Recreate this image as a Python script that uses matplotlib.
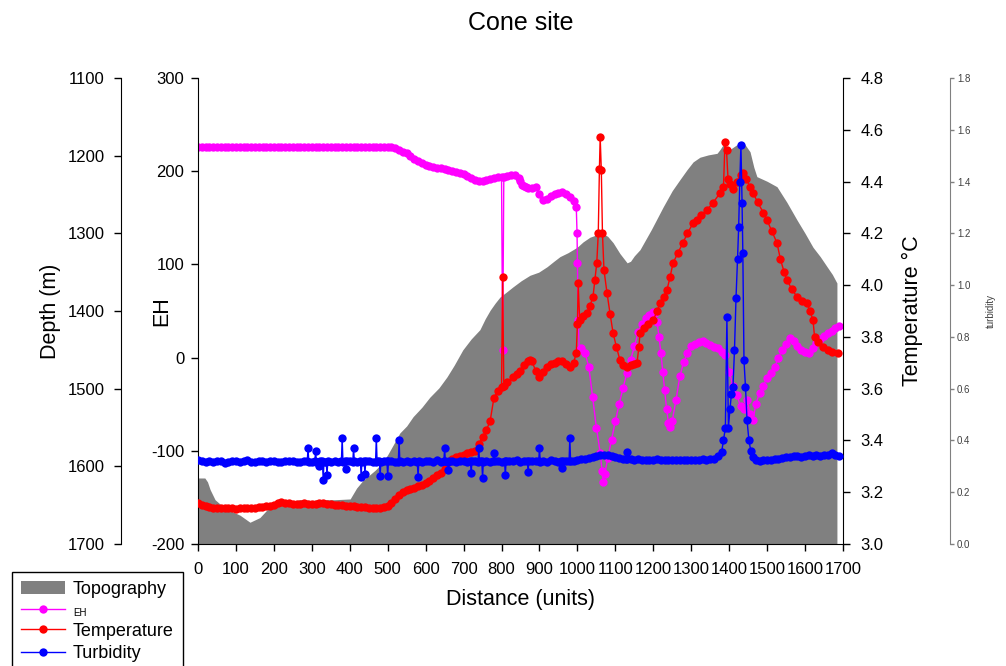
import matplotlib
matplotlib.use('Agg')
import matplotlib.pyplot as plt
from matplotlib.lines import Line2D
from matplotlib.patches import Patch

plt.rcParams['font.family'] = ['Liberation Sans', 'DejaVu Sans']
plt.rcParams['axes.unicode_minus'] = False

# ---------------- data ----------------
dist_ticks = [0, 100, 200, 300, 400, 500, 600, 700, 800, 900, 1000,
              1100, 1200, 1300, 1400, 1500, 1600, 1700]
depth_ticks = [1100, 1200, 1300, 1400, 1500, 1600, 1700]
eh_ticks = [-200, -100, 0, 100, 200, 300]
temp_ticks = [3.0, 3.2, 3.4, 3.6, 3.8, 4.0, 4.2, 4.4, 4.6, 4.8]
turb_ticks = [0.0, 0.2, 0.4, 0.6, 0.8, 1.0, 1.2, 1.4, 1.6, 1.8]

# (distance, depth) of the topography profile
topo_points = [(0, 1615), (18, 1615), (25, 1620), (32, 1630), (45, 1643), (71, 1654),
               (111, 1663), (137, 1672), (150, 1669), (163, 1666), (182, 1656), (200, 1652),
               (216, 1650), (240, 1646), (269, 1643), (300, 1644), (322, 1643), (360, 1643),
               (401, 1642), (418, 1628), (435, 1618), (450, 1612), (467, 1605), (485, 1596),
               (500, 1585), (515, 1572), (532, 1557), (550, 1548), (567, 1536), (590, 1524),
               (611, 1511), (635, 1499), (656, 1485), (675, 1470), (698, 1450), (720, 1436),
               (743, 1424), (757, 1410), (770, 1399), (783, 1390), (796, 1382), (812, 1376),
               (830, 1369), (852, 1361), (875, 1354), (898, 1350), (920, 1343), (938, 1336),
               (954, 1330), (975, 1325), (999, 1318), (1015, 1311), (1033, 1305), (1050, 1302),
               (1067, 1300), (1080, 1304), (1094, 1312), (1112, 1326), (1131, 1338), (1140, 1336),
               (1150, 1329), (1165, 1321), (1195, 1295), (1226, 1266), (1250, 1245), (1270, 1231),
               (1289, 1218), (1305, 1208), (1323, 1202), (1345, 1199), (1368, 1197), (1376, 1192),
               (1384, 1186), (1393, 1190), (1402, 1192), (1420, 1186), (1442, 1186), (1455, 1195),
               (1465, 1215), (1473, 1227), (1500, 1233), (1526, 1240), (1552, 1260), (1579, 1283),
               (1600, 1300), (1621, 1318), (1640, 1330), (1658, 1343), (1672, 1353), (1684, 1364)]

eh_dist = [0, 10, 20, 30, 40, 50, 60, 70, 80, 90,
           100, 110, 120, 130, 140, 150, 160, 170, 180, 190,
           200, 210, 220, 230, 240, 250, 260, 270, 280, 290,
           300, 310, 320, 330, 340, 350, 360, 370, 380, 390,
           400, 410, 420, 430, 440, 450, 460, 470, 480, 490,
           500, 510, 520, 530, 540, 550, 560, 570, 580, 590,
           600, 610, 620, 630, 640, 650, 660, 670, 680, 690,
           700, 710, 720, 730, 740, 750, 760, 770, 780, 790,
           800, 803, 806, 815, 825, 835, 845, 850, 855, 860,
           865, 870, 880, 890, 900, 910, 920, 930, 940, 950,
           960, 970, 980, 990, 997, 999, 1000, 1002, 1005, 1010,
           1020, 1030, 1040, 1050, 1060, 1065, 1068, 1072, 1080, 1090,
           1100, 1110, 1120, 1130, 1140, 1150, 1160, 1170, 1180, 1190,
           1200, 1205, 1210, 1215, 1220, 1225, 1230, 1235, 1240, 1245,
           1250, 1260, 1270, 1280, 1290, 1300, 1310, 1320, 1330, 1340,
           1350, 1360, 1370, 1380, 1390, 1400, 1410, 1420, 1430, 1440,
           1447, 1455, 1463, 1470, 1480, 1490, 1500, 1510, 1520, 1530,
           1540, 1550, 1560, 1570, 1580, 1590, 1600, 1610, 1620, 1630,
           1640, 1650, 1660, 1670, 1680, 1690]
eh_val = [226, 226, 226, 226, 226, 226, 226, 226, 226, 226,
          226, 226, 226, 226, 226, 226, 226, 226, 226, 226,
          226, 226, 226, 226, 226, 226, 226, 226, 226, 226,
          226, 226, 226, 226, 226, 226, 226, 226, 226, 226,
          226, 226, 226, 226, 226, 226, 226, 226, 226, 226,
          226, 226, 225, 223, 221, 219, 216, 213, 211, 209,
          207, 205.5, 204.5, 203.5, 203, 202, 201, 200, 199, 198,
          197, 195, 193, 191, 190, 190, 191, 192, 193, 194,
          194, 8, 194, 195, 196, 196, 193, 189, 185, 184,
          183, 182, 182, 183, 176, 169, 170, 173, 176, 177,
          178, 176, 172, 168, 162, 134, 101, 40, 8, 10,
          5, -10, -42, -75, -102, -122, -133, -125, -108, -88,
          -68, -50, -33, -17, -3, 12, 27, 36, 42, 46,
          49, 48, 38, 22, 5, -15, -35, -55, -70, -74,
          -68, -45, -20, -5, 5, 12, 15, 17, 18, 16,
          13, 11, 10, 6, 3, -15, -30, -40, -52, -55,
          -45, -60, -67, -50, -38, -30, -22, -16, -10, 0,
          8, 15, 21, 18, 12, 8, 6, 5, 10, 16,
          20, 23, 26, 29, 32, 34]

temp_dist = [0, 10, 20, 30, 40, 50, 60, 70, 80, 90,
             100, 110, 120, 130, 140, 150, 160, 170, 180, 190,
             200, 210, 220, 230, 240, 250, 260, 270, 280, 290,
             300, 310, 320, 330, 340, 350, 360, 370, 380, 390,
             400, 410, 420, 430, 440, 450, 460, 470, 480, 490,
             500, 510, 520, 530, 540, 550, 560, 570, 580, 590,
             600, 610, 620, 630, 640, 650, 660, 670, 680, 690,
             700, 710, 720, 730, 740, 750, 760, 770, 780, 790,
             800, 803, 806, 815, 830, 840, 850, 860, 870, 875,
             880, 890, 900, 910, 920, 930, 940, 950, 960, 970,
             980, 990, 997, 1000, 1002, 1006, 1015, 1025, 1033, 1041,
             1046, 1051, 1055, 1058, 1060, 1063, 1066, 1070, 1078, 1086,
             1094, 1103, 1112, 1120, 1131, 1140, 1150, 1157, 1162, 1165,
             1175, 1185, 1200, 1210, 1218, 1227, 1236, 1244, 1252, 1265,
             1278, 1290, 1305, 1315, 1325, 1341, 1357, 1376, 1385, 1389,
             1393, 1397, 1403, 1410, 1420, 1430, 1436, 1445, 1455, 1463,
             1475, 1490, 1500, 1512, 1526, 1535, 1545, 1552, 1565, 1579,
             1592, 1605, 1613, 1621, 1625, 1635, 1648, 1660, 1672, 1687]
temp_val = [3.158, 3.150, 3.145, 3.142, 3.140, 3.140, 3.139, 3.138, 3.138, 3.138,
            3.137, 3.138, 3.138, 3.139, 3.140, 3.140, 3.141, 3.142, 3.145, 3.148,
            3.152, 3.158, 3.162, 3.160, 3.158, 3.156, 3.155, 3.156, 3.157, 3.156,
            3.155, 3.156, 3.157, 3.157, 3.155, 3.153, 3.152, 3.152, 3.150, 3.148,
            3.146, 3.145, 3.142, 3.142, 3.141, 3.140, 3.140, 3.139, 3.140, 3.142,
            3.148, 3.158, 3.172, 3.190, 3.200, 3.207, 3.212, 3.218, 3.224, 3.228,
            3.235, 3.245, 3.255, 3.265, 3.274, 3.290, 3.315, 3.328, 3.335, 3.340,
            3.345, 3.350, 3.355, 3.360, 3.385, 3.413, 3.440, 3.475, 3.565, 3.590,
            3.606, 4.030, 3.610, 3.625, 3.645, 3.655, 3.670, 3.690, 3.705, 3.711,
            3.705, 3.670, 3.645, 3.665, 3.684, 3.695, 3.700, 3.708, 3.705, 3.695,
            3.684, 3.700, 3.738, 3.850, 4.008, 3.865, 3.880, 3.892, 3.920, 3.954,
            4.020, 4.085, 4.200, 4.450, 4.572, 4.445, 4.200, 4.058, 3.970, 3.890,
            3.815, 3.760, 3.711, 3.690, 3.684, 3.690, 3.695, 3.700, 3.760, 3.815,
            3.835, 3.850, 3.865, 3.900, 3.930, 3.955, 3.981, 4.030, 4.085, 4.125,
            4.163, 4.200, 4.240, 4.250, 4.270, 4.290, 4.317, 4.356, 4.380, 4.553,
            4.520, 4.410, 4.390, 4.370, 4.400, 4.425, 4.433, 4.410, 4.380, 4.356,
            4.320, 4.280, 4.250, 4.210, 4.163, 4.100, 4.050, 4.020, 3.985, 3.954,
            3.940, 3.930, 3.900, 3.865, 3.800, 3.780, 3.761, 3.750, 3.742, 3.738]

# (distance, turbidity)
turb_points = [
    (0, .325), (10, .322), (20, .318), (30, .320), (40, .316), (50, .319), (60, .321),
    (70, .314), (80, .318), (90, .322), (100, .319), (110, .317), (120, .320), (130, .323),
    (140, .318), (150, .316), (160, .321), (170, .319), (180, .317), (190, .320),
    (200, .322), (210, .318), (220, .316), (230, .320), (240, .319), (250, .321),
    (260, .318), (270, .317), (280, .320), (288, .319), (290, .371), (292, .318),
    (300, .318), (308, .320), (310, .360), (312, .317), (318, .318), (320, .300),
    (322, .319), (328, .320), (330, .247), (332, .318), (338, .317), (340, .266),
    (342, .319), (350, .318), (360, .322), (370, .316), (378, .320), (380, .410),
    (382, .318), (388, .319), (390, .290), (392, .320), (400, .320), (408, .318),
    (410, .371), (412, .320), (420, .318), (428, .319), (430, .259), (432, .318),
    (438, .320), (440, .270), (442, .319), (450, .320), (460, .318), (468, .317),
    (470, .410), (472, .319), (478, .320), (480, .262), (482, .318), (490, .320),
    (498, .319), (500, .262), (502, .321), (510, .322), (520, .318), (528, .317),
    (530, .400), (532, .319), (540, .316), (550, .322), (560, .318), (570, .320),
    (578, .318), (580, .260), (582, .319), (590, .317), (600, .321), (610, .319),
    (620, .316), (630, .323), (640, .318), (648, .320), (650, .370), (652, .319),
    (658, .318), (660, .286), (662, .320), (670, .320), (680, .317), (690, .322),
    (700, .319), (710, .316), (718, .319), (720, .274), (722, .320), (730, .321),
    (738, .318), (740, .370), (742, .319), (748, .320), (750, .255), (752, .318),
    (760, .320), (770, .318), (778, .320), (780, .350), (782, .319), (790, .322),
    (800, .317), (808, .320), (810, .266), (812, .319), (820, .321), (830, .319),
    (840, .323), (850, .318), (860, .320), (868, .319), (870, .280), (872, .321),
    (880, .322), (890, .319), (898, .320), (900, .370), (902, .318), (910, .321),
    (920, .318), (930, .323), (940, .320), (950, .317), (958, .320), (960, .293),
    (962, .321), (970, .322), (978, .320), (980, .410), (982, .319), (990, .320),
    (1000, .326), (1010, .328), (1020, .330), (1030, .332), (1040, .336), (1050, .340),
    (1060, .344), (1070, .345), (1080, .343), (1090, .340), (1100, .336), (1110, .332),
    (1120, .330), (1128, .329), (1130, .355), (1132, .328), (1140, .328), (1150, .326),
    (1160, .327), (1170, .325), (1180, .326), (1190, .324), (1200, .325), (1210, .327),
    (1220, .326), (1230, .324), (1240, .325), (1250, .326), (1260, .324), (1270, .325),
    (1280, .326), (1290, .324), (1300, .325), (1310, .326), (1320, .325), (1330, .327),
    (1340, .326), (1350, .328), (1360, .330), (1370, .338), (1380, .355), (1385, .400),
    (1390, .450), (1394, .877), (1398, .450), (1402, .520), (1406, .580), (1410, .606),
    (1414, .750), (1418, .950), (1422, 1.100), (1425, 1.224), (1428, 1.400), (1431, 1.541),
    (1434, 1.317), (1436, 1.124), (1439, .710), (1443, .606), (1447, .480), (1452, .400),
    (1457, .360), (1462, .335), (1470, .325), (1480, .322), (1490, .324), (1500, .323),
    (1510, .325), (1520, .327), (1530, .330), (1540, .333), (1550, .336), (1560, .335),
    (1570, .338), (1580, .340), (1590, .337), (1600, .339), (1610, .342), (1620, .340),
    (1630, .344), (1640, .341), (1650, .343), (1660, .345), (1670, .350), (1680, .342),
    (1690, .340)]

topo_dist = [p[0] for p in topo_points]
topo_depth = [p[1] for p in topo_points]
turb_dist = [p[0] for p in turb_points]
turb_val = [p[1] for p in turb_points]

# ---------------- figure ----------------
W, H = 1006, 666
fig = plt.figure(figsize=(W / 100, H / 100), dpi=100)
ax = fig.add_axes([198 / W, 122 / H, 645 / W, 466 / H])

TOPO_C = '#808080'
EH_C = '#FF00FF'
T_C = '#FF0000'
TB_C = '#0000FF'
MS = 6

# topography on the depth axis (drawn first, behind everything)
ax.fill_between(topo_dist, topo_depth, 1700, color=TOPO_C, lw=0)
ax.set_xlim(0, 1700)
ax.set_ylim(1700, 1100)
ax.set_xticks(dist_ticks)
ax.set_yticks(depth_ticks)
ax.spines['left'].set_position(('outward', 55.4))
ax.spines['top'].set_visible(False)
ax.spines['right'].set_visible(False)
ax.tick_params(axis='both', direction='out', length=4.8, width=1, labelsize=12)
ax.tick_params(axis='y', pad=7)
ax.tick_params(axis='x', pad=8)
ax.set_ylabel('Depth (m)', fontsize=15.5)
ax.yaxis.set_label_coords(-0.212, 0.5)
ax.set_xlabel('Distance (units)', fontsize=15.5)
ax.xaxis.set_label_coords(0.5, -0.0966)

# EH axis (left, inner)
ax_eh = ax.twinx()
ax_eh.yaxis.tick_left()
ax_eh.yaxis.set_label_position('left')
for s in ['right', 'top', 'bottom']:
    ax_eh.spines[s].set_visible(False)
ax_eh.plot(eh_dist, eh_val, '-o', color=EH_C, lw=1, ms=MS, mew=0)
ax_eh.set_ylim(-200, 300)
ax_eh.set_yticks(eh_ticks)
ax_eh.tick_params(axis='y', direction='out', length=4.8, width=1, labelsize=12, pad=5)
ax_eh.set_ylabel('EH', fontsize=15.5)
ax_eh.yaxis.set_label_coords(-0.040, 0.5)

# Temperature axis (right, inner)
ax_t = ax.twinx()
for s in ['left', 'top', 'bottom']:
    ax_t.spines[s].set_visible(False)
ax_t.plot(temp_dist, temp_val, '-o', color=T_C, lw=1, ms=MS, mew=0)
ax_t.set_ylim(3.0, 4.8)
ax_t.set_yticks(temp_ticks)
ax_t.set_yticklabels([f'{v:.1f}' for v in temp_ticks])
ax_t.tick_params(axis='y', direction='out', length=4.8, width=1, labelsize=12, pad=8)
ax_t.set_ylabel('Temperature °C', fontsize=15.5)
ax_t.yaxis.set_label_coords(1.092, 0.5)

# Turbidity axis (right, outer, grey)
ax_tb = ax.twinx()
for s in ['left', 'top', 'bottom']:
    ax_tb.spines[s].set_visible(False)
ax_tb.spines['right'].set_position(('outward', 77))
ax_tb.spines['right'].set_color('#808080')
ax_tb.plot(turb_dist, turb_val, '-o', color=TB_C, lw=1, ms=MS, mew=0)
ax_tb.set_ylim(0.0, 1.8)
ax_tb.set_yticks(turb_ticks)
ax_tb.set_yticklabels([f'{v:.1f}' for v in turb_ticks])
ax_tb.tick_params(axis='y', direction='out', length=3, width=1, labelsize=7,
                  pad=2, color='#808080', labelcolor='#404040')
ax_tb.set_ylabel('turbidity', fontsize=7, color='#404040')
ax_tb.yaxis.set_label_coords(1.2217, 0.5)

# title
fig.text(521 / W, 1 - 30 / H, 'Cone site', ha='center', va='baseline', fontsize=18)

# legend
handles = [Patch(facecolor=TOPO_C, edgecolor='none'),
           Line2D([], [], color=EH_C, lw=1, marker='o', ms=MS, mew=0),
           Line2D([], [], color=T_C, lw=1, marker='o', ms=MS, mew=0),
           Line2D([], [], color=TB_C, lw=1, marker='o', ms=MS, mew=0)]
labels = ['Topography', 'EH', 'Temperature', 'Turbidity']
leg = fig.legend(handles, labels, loc='upper left',
                 bbox_to_anchor=(12 / W, 1 - 572 / H), bbox_transform=fig.transFigure,
                 borderaxespad=0, fontsize=13, frameon=True, fancybox=False,
                 edgecolor='black', framealpha=1, handlelength=2.44,
                 handletextpad=0.44, labelspacing=0.28, borderpad=0.5)
leg.get_frame().set_linewidth(1)
leg.get_texts()[1].set_fontsize(7)

fig.savefig('out.png', dpi=100)
